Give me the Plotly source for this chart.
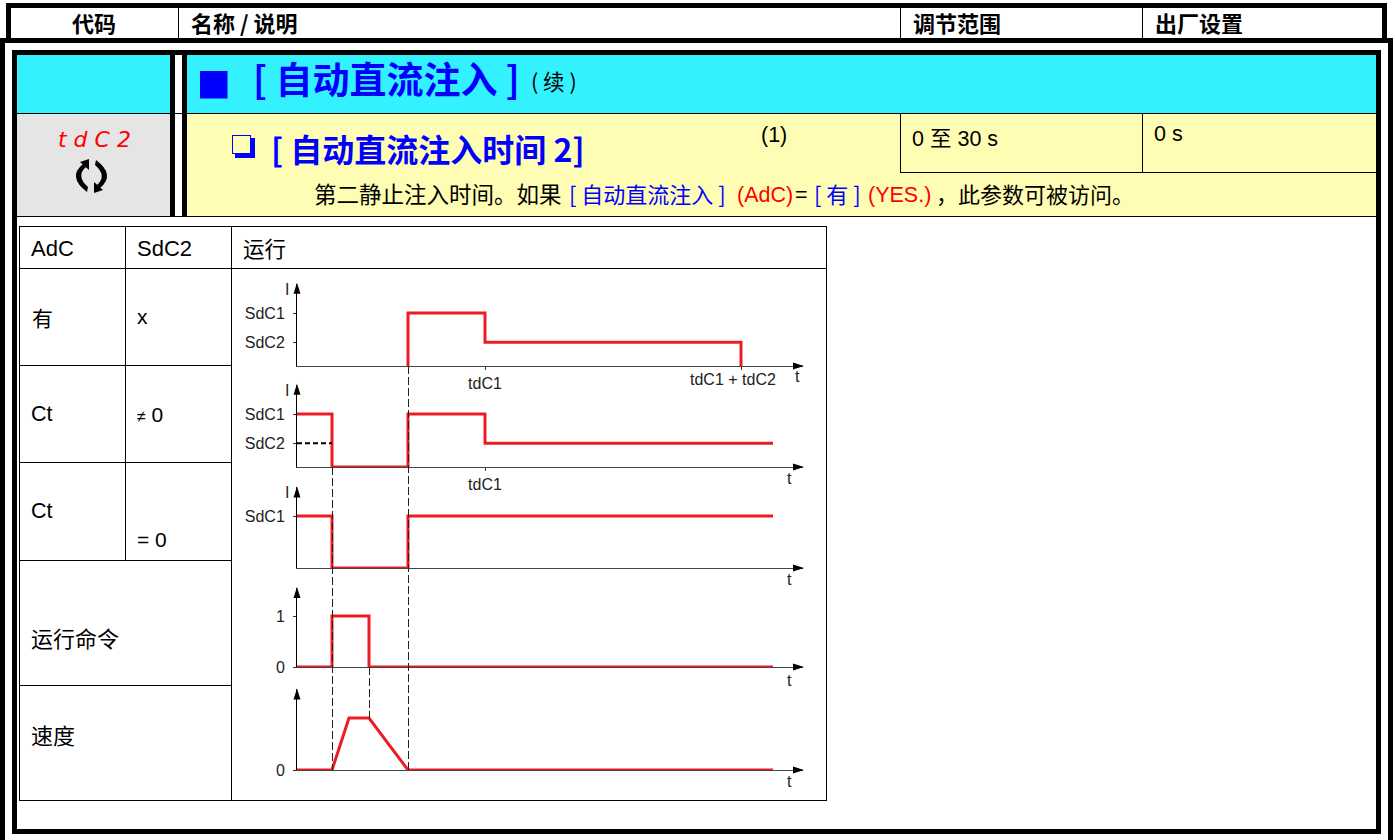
import plotly.graph_objects as go

W = 1395
H = 840

# time axis shared by the five panels (arbitrary units, 0 = axis origin, 506 = arrow tip)
t_max = 506
y_max = 1.55

# current, panel 1 (AdC = yes)
t1 = [111, 111, 188, 188, 444, 444]
i1 = [0, 1, 1, 0.45, 0.45, 0]
# current, panel 2 (Ct, SdC2 != 0)
t2 = [0, 35, 35, 111, 111, 188, 188, 476]
i2 = [1, 1, 0, 0, 1, 1, 0.45, 0.45]
t2_dash = [0, 35]
i2_dash = [0.45, 0.45]
# current, panel 3 (Ct, SdC2 = 0)
t3 = [0, 35, 35, 111, 111, 476]
i3 = [1, 1, 0, 0, 1, 1]
# run command
t4 = [0, 35, 35, 72, 72, 476]
i4 = [0, 0, 1, 1, 0, 0]
# speed
t5 = [0, 35, 52, 72, 111, 476]
i5 = [0, 0, 1, 1, 0, 0]

tick_vals1 = [0.45, 1]
tick_text1 = ["SdC2", "SdC1"]
tick_vals3 = [1]
tick_text3 = ["SdC1"]
tick_vals4 = [0, 1]
tick_text4 = ["0", "1"]
tick_vals5 = [0]
tick_text5 = ["0"]
time_ticks = [188]
time_text = ["tdC1"]

RED = "#ED1C24"
BLUE = "#0000FF"
CYAN = "#33F1FF"
YELLOW = "#FFFDB3"
GRAY = "#E5E5E5"
CJK = "Noto Sans CJK SC"
LATIN = "Liberation Sans"

# px -> paper helpers, the page furniture is all placed by pixel
def px(x):
    return x / W

def py(y):
    return 1 - y / H

shapes = []
annotations = []

def rect(x0, y0, x1, y1, color):
    shapes.append(dict(type="rect", xref="paper", yref="paper", x0=px(x0), x1=px(x1),
                       y0=py(y0), y1=py(y1), fillcolor=color, line_width=0, layer="below"))

def line(x0, y0, x1, y1, color="black", width=1):
    shapes.append(dict(type="line", xref="paper", yref="paper", x0=px(x0), x1=px(x1),
                       y0=py(y0), y1=py(y1), line=dict(color=color, width=width), layer="below"))

def poly(points, color="black"):
    d = ""
    for cmd, nums in points:
        d += cmd
        for k in range(0, len(nums), 2):
            d += f" {px(nums[k]):.5f} {py(nums[k + 1]):.5f}"
        d += " "
    shapes.append(dict(type="path", xref="paper", yref="paper", path=d + "Z",
                       fillcolor=color, line_width=0, layer="above"))

def label(x, y, text, size=21, color="black", family=LATIN, anchor="left"):
    # CJK glyphs sit lower in their box than the latin ones
    if family == CJK:
        y = y - 2
    annotations.append(dict(x=px(x), y=py(y), xref="paper", yref="paper", text=text, showarrow=False,
                            xanchor=anchor, yanchor="middle", borderpad=0,
                            font=dict(size=size, color=color, family=family)))

# header strip
rect(6, 3, 1387, 8, "black")
rect(6, 3, 11, 38, "black")
rect(1382, 3, 1387, 38, "black")
line(178.5, 8, 178.5, 38)
line(900.5, 8, 900.5, 38)
line(1142.5, 8, 1142.5, 38)

# outer frame
rect(0, 38, 1393, 43, "black")
rect(0, 38, 5, 840, "black")
rect(1388, 38, 1393, 840, "black")

# inner frame
rect(12, 50, 1381, 55, "black")
rect(12, 50, 17, 834, "black")
rect(1376, 50, 1381, 834, "black")
rect(12, 829, 1381, 834, "black")

# coloured rows
rect(17, 55, 170, 113, CYAN)
rect(187, 55, 1376, 113, CYAN)
rect(17, 113, 170, 216, GRAY)
rect(187, 113, 1376, 216, YELLOW)
rect(170, 55, 175, 216, "black")
rect(182, 55, 187, 216, "black")
line(17, 113.5, 1376, 113.5)
line(17, 216.5, 1376, 216.5)
line(900.5, 113, 900.5, 172)
line(1142.5, 113, 1142.5, 172)
line(900, 172.5, 1376, 172.5)

# parameter table
line(19.5, 226, 19.5, 800.5)
line(826.5, 226, 826.5, 800.5)
line(231.5, 226, 231.5, 800.5)
line(125.5, 226, 125.5, 560)
line(19, 226.5, 827, 226.5)
line(19, 268.5, 827, 268.5)
line(19, 800.5, 827, 800.5)
for row_y in [365, 462, 560, 685]:
    line(19, row_y + 0.5, 232, row_y + 0.5)

# section square and sub item box
rect(200, 71, 227.5, 98.5, BLUE)
rect(235, 138, 255, 158, BLUE)
rect(232, 135, 251, 154, BLUE)
rect(233, 136, 250, 153, YELLOW)

# text
label(94, 24, "<b>代码</b>", 22, family=CJK, anchor="center")
label(190, 24, "<b>名称 / 说明</b>", 22, family=CJK)
label(912, 24, "<b>调节范围</b>", 22, family=CJK)
label(1154, 24, "<b>出厂设置</b>", 22, family=CJK)

label(252, 80, "<b>[ 自动直流注入 ]</b>", 37, BLUE, CJK)
label(530, 83, "( 续 )", 21.5, family=CJK)
label(270, 150, "<b>[ 自动直流注入时间 2]</b>", 32, BLUE, CJK)
label(760, 135, "(1)", 21.5)
label(911, 137, "0 <span style='font-family:Noto Sans CJK SC'>至</span> 30 s", 21.5)
label(1153, 134, "0 s", 21.5)

label(313, 195, "第二静止注入时间。如果", 22.5, family=CJK)
label(568, 195, "[ 自动直流注入 ]", 22, BLUE, CJK)
label(736, 195, "(AdC)", 21.5, "#FF0000")
label(794, 195, "=", 21.5)
label(813, 195, "[ 有 ]", 22, BLUE, CJK)
label(867, 195, "(YES.)", 21.5, "#FF0000")
label(935, 195, "\uff0c此参数可被访问。", 22, family=CJK)

label(57, 140, "<i>t d C 2</i>", 22, "#FF0000", "DejaVu Sans")

label(30, 248, "AdC", 22)
label(136, 248, "SdC2", 22)
label(242, 249, "运行", 21.5, family=CJK)
label(31, 319, "有", 21, family=CJK)
label(136, 316, "x", 21)
label(30, 414, "Ct", 21.5)
label(136, 414, "<span style='font-size:16px'>≠</span> 0", 21)
label(30, 511, "Ct", 21.5)
label(136, 539, "= 0", 21)
label(30, 639, "运行命令", 22, family=CJK)
label(30, 736, "速度", 22, family=CJK)

# refresh icon, two bows with arrow heads
poly([("M", [87, 192]), ("Q", [67, 177, 83, 164]), ("L", [86, 167]), ("Q", [75.5, 176, 88, 187])])
poly([("M", [89, 159]), ("L", [80, 162]), ("L", [89, 170])])
poly([("M", [96, 160]), ("Q", [116, 175, 100, 188]), ("L", [97, 185]), ("Q", [107.5, 176, 95, 165])])
poly([("M", [94, 193]), ("L", [103, 190]), ("L", [94, 182])])

fig = go.Figure()

# (baseline px, px per unit), one per panel
panel_geom = [(366, 53), (467, 53), (568, 52), (667, 51), (770, 52)]
x_left = 297
x_right = 803

series = [(t1, i1), (t2, i2), (t3, i3), (t4, i4), (t5, i5)]
y_ticks = [(tick_vals1, tick_text1), (tick_vals1, tick_text1), (tick_vals3, tick_text3),
           (tick_vals4, tick_text4), (tick_vals5, tick_text5)]

axes = {}
for n, (base, unit) in enumerate(panel_geom, start=1):
    top = base - unit * y_max
    x_name = "x" if n == 1 else f"x{n}"
    y_name = "y" if n == 1 else f"y{n}"
    ticks = time_ticks if n <= 2 else []
    axes["xaxis" if n == 1 else f"xaxis{n}"] = dict(
        domain=[px(x_left), px(x_right)], range=[0, t_max], anchor=y_name, automargin=False,
        showgrid=False, zeroline=False, showline=True, linecolor="#444444", linewidth=1,
        ticks="outside", ticklen=3, tickcolor="#333333", tickvals=ticks,
        ticktext=time_text if n <= 2 else [], tickfont=dict(size=16, family=LATIN, color="#222222"),
        fixedrange=True)
    axes["yaxis" if n == 1 else f"yaxis{n}"] = dict(
        domain=[py(base), py(top)], range=[0, y_max], anchor=x_name, automargin=False,
        showgrid=False, zeroline=False, showline=True, linecolor="black", linewidth=1,
        ticks="outside", ticklen=3, tickcolor="#333333", tickvals=y_ticks[n - 1][0],
        ticktext=y_ticks[n - 1][1], tickfont=dict(size=16, family=LATIN, color="#222222"),
        ticklabelstandoff=5, fixedrange=True)
    fig.add_trace(go.Scatter(x=series[n - 1][0], y=series[n - 1][1], mode="lines", xaxis=x_name, yaxis=y_name,
                             line=dict(color=RED, width=3), cliponaxis=False, hoverinfo="skip"))
    # axis arrow heads
    poly([("M", [x_left, top - 1]), ("L", [x_left + 3.5, top + 10]), ("L", [x_left - 3.5, top + 10])])
    poly([("M", [x_right + 1, base]), ("L", [x_right - 10, base - 3.5]), ("L", [x_right - 10, base + 3.5])])

# SdC2 level that is not reached in panel 2
fig.add_trace(go.Scatter(x=t2_dash, y=i2_dash, mode="lines", xaxis="x2", yaxis="y2",
                         line=dict(color="black", width=2, dash="5px,3px"), hoverinfo="skip"))

# guide lines running through the panels: time, top px, bottom px
guide_t = [111.5, 35.5, 72.5]
guide_top = [366, 467, 667]
guide_bottom = [770, 770, 718]
for g_t, g_top, g_bot in zip(guide_t, guide_top, guide_bottom):
    shapes.append(dict(type="line", xref="x", yref="paper", x0=g_t, x1=g_t, y0=py(g_top), y1=py(g_bot),
                       line=dict(color="#222222", width=1, dash="8px,3px"), layer="above"))

# axis names and the one label off its tick
for i_y in [289, 390, 492]:
    label(287, i_y, "I", 16, "#222222", anchor="center")
t_marks = [(797, 377), (789, 478), (789, 579), (789, 680), (789, 781)]
for t_x, t_y in t_marks:
    label(t_x, t_y, "t", 16, "#222222", anchor="center")
label(733, 380, "tdC1 + tdC2", 16, "#222222", anchor="center")
axes["xaxis"]["tickvals"] = [188, 444]
axes["xaxis"]["ticktext"] = ["tdC1", ""]

fig.update_layout(
    width=W, height=H, margin=dict(l=0, r=0, t=0, b=0, pad=0, autoexpand=False), autosize=False,
    paper_bgcolor="white", plot_bgcolor="rgba(0,0,0,0)", showlegend=False,
    shapes=shapes, annotations=annotations, **axes)

fig.write_html("out.html", config={"displayModeBar": False},
               post_script="document.body.style.margin='0';")
